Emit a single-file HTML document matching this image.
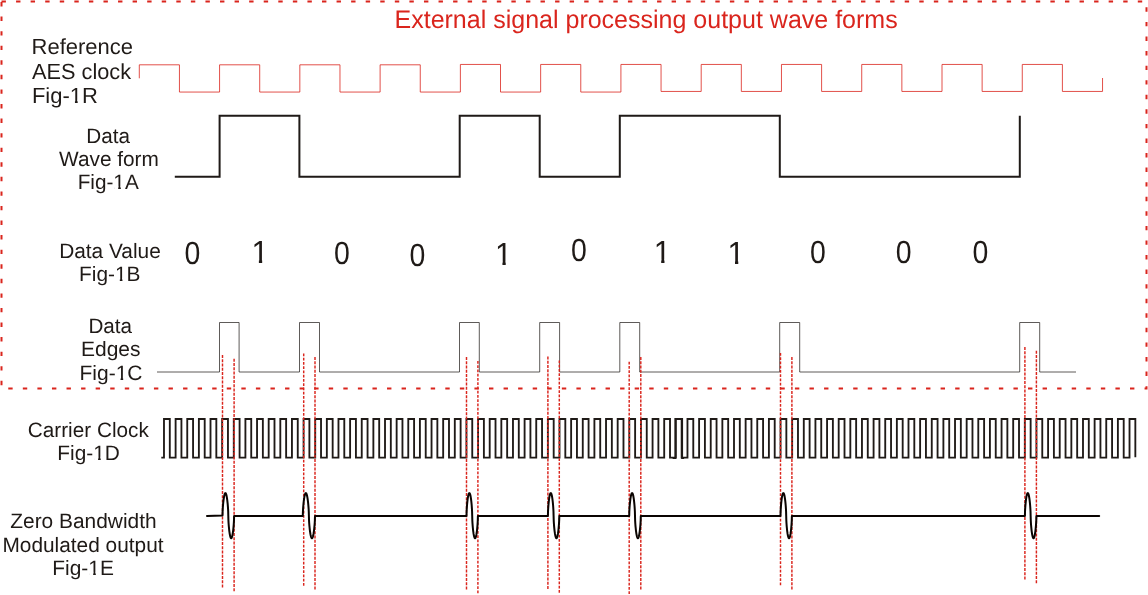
<!DOCTYPE html>
<html><head><meta charset="utf-8"><title>Wave forms</title>
<style>
html,body{margin:0;padding:0;background:#fff;}
body{width:1148px;height:595px;overflow:hidden;}
svg{display:block;font-family:"Liberation Sans",sans-serif;opacity:0.999;will-change:transform;}
text{text-rendering:geometricPrecision;}
</style></head>
<body>
<svg width="1148" height="595" viewBox="0 0 1148 595">
<rect width="1148" height="595" fill="#fff"/>
<path d="M1.5,1.5H1146.5V388.6H1.5Z" fill="none" stroke="#DA251D" stroke-width="2" stroke-dasharray="4.4 10.168"/>
<text transform="translate(394.50,28) scale(0.9849,1)" font-size="25.4" fill="#DA251D">External signal processing output wave forms</text>
<text transform="translate(31.54,54) scale(1.0041,1)" font-size="21.9" fill="#1F1A17">Reference</text>
<text transform="translate(32.00,79) scale(0.9928,1)" font-size="21.9" fill="#1F1A17">AES clock</text>
<text transform="translate(31.94,103) scale(1.0042,1)" font-size="21.9" fill="#1F1A17">Fig-1R</text>
<g transform="translate(31.94,103) scale(1.0042,1)" fill="#fff"><rect x="38.81" y="-3.28" width="4.01" height="3.88"/><rect x="45.56" y="-3.28" width="3.92" height="3.88"/></g>
<text transform="translate(86.25,143) scale(0.9941,1)" font-size="20.8" fill="#1F1A17">Data</text>
<text transform="translate(59.00,166) scale(1.0014,1)" font-size="20.8" fill="#1F1A17">Wave form</text>
<text transform="translate(77.64,189) scale(0.9973,1)" font-size="20.8" fill="#1F1A17">Fig-1A</text>
<g transform="translate(77.64,189) scale(0.9973,1)" fill="#fff"><rect x="36.86" y="-3.12" width="3.79" height="3.72"/><rect x="43.29" y="-3.12" width="3.71" height="3.72"/></g>
<text transform="translate(59.13,257.8) scale(1.0025,1)" font-size="20.8" fill="#1F1A17">Data Value</text>
<text transform="translate(79.03,280.9) scale(1.0031,1)" font-size="20.8" fill="#1F1A17">Fig-1B</text>
<g transform="translate(79.03,280.9) scale(1.0031,1)" fill="#fff"><rect x="36.86" y="-3.12" width="3.79" height="3.72"/><rect x="43.29" y="-3.12" width="3.71" height="3.72"/></g>
<text transform="translate(88.45,333) scale(0.9917,1)" font-size="20.8" fill="#1F1A17">Data</text>
<text transform="translate(81.02,355.8) scale(1.0090,1)" font-size="20.8" fill="#1F1A17">Edges</text>
<text transform="translate(79.52,380) scale(1.0087,1)" font-size="20.8" fill="#1F1A17">Fig-1C</text>
<g transform="translate(79.52,380) scale(1.0087,1)" fill="#fff"><rect x="36.86" y="-3.12" width="3.79" height="3.72"/><rect x="43.29" y="-3.12" width="3.71" height="3.72"/></g>
<text transform="translate(27.76,436.6) scale(0.9974,1)" font-size="20.8" fill="#1F1A17">Carrier Clock</text>
<text transform="translate(57.33,459.8) scale(1.0022,1)" font-size="20.8" fill="#1F1A17">Fig-1D</text>
<g transform="translate(57.33,459.8) scale(1.0022,1)" fill="#fff"><rect x="36.86" y="-3.12" width="3.79" height="3.72"/><rect x="43.29" y="-3.12" width="3.71" height="3.72"/></g>
<text transform="translate(10.27,528.4) scale(1.0049,1)" font-size="20.8" fill="#1F1A17">Zero Bandwidth</text>
<text transform="translate(2.43,551.7) scale(1.0024,1)" font-size="20.8" fill="#1F1A17">Modulated output</text>
<text transform="translate(52.33,574.9) scale(1.0046,1)" font-size="20.8" fill="#1F1A17">Fig-1E</text>
<g transform="translate(52.33,574.9) scale(1.0046,1)" fill="#fff"><rect x="36.86" y="-3.12" width="3.79" height="3.72"/><rect x="43.29" y="-3.12" width="3.71" height="3.72"/></g>
<path d="M139.3,78.3V64.8V64.8H179.44V92.05H219.57V64.8H259.71V92.05H299.84V64.8H339.98V92.05H380.11V64.8H420.25V92.05H460.38V64.45H500.51V92.05H540.65V64.45H580.78V92.05H620.92V64.45H661.06V91.45H701.19V64.45H741.33V91.45H781.46V64.45H821.60V91.45H861.73V64.45H901.87V91.45H942.00V64.45H982.13V91.45H1022.27V64.45H1062.40V91.45H1102.54V78.0" fill="none" stroke="#DA251D" stroke-width="0.8"/>
<path d="M174.8,176.7H219.6V115.7H299.4V176.7H459.7V115.7H539.7V176.7H619.8V115.7H779.8V176.7H1019.8V115.7" fill="none" stroke="#1F1A17" stroke-width="2" stroke-linejoin="miter"/>
<clipPath id="nofoot"><path d="M-2,-25.6H32V-3.29H11.17V2H7.75V-3.29H-2Z"/></clipPath>
<text transform="translate(184.44,264.10) scale(0.8891,1)" font-size="32" fill="#1F1A17">0</text>
<text transform="translate(333.89,264.10) scale(0.8891,1)" font-size="32" fill="#1F1A17">0</text>
<text transform="translate(409.49,266.20) scale(0.8891,1)" font-size="32" fill="#1F1A17">0</text>
<text transform="translate(570.99,260.90) scale(0.8891,1)" font-size="32" fill="#1F1A17">0</text>
<text transform="translate(809.99,263.30) scale(0.8891,1)" font-size="32" fill="#1F1A17">0</text>
<text transform="translate(895.79,263.30) scale(0.8891,1)" font-size="32" fill="#1F1A17">0</text>
<text transform="translate(972.39,263.30) scale(0.8891,1)" font-size="32" fill="#1F1A17">0</text>
<g transform="translate(251.45,262.80) scale(0.96,1)" clip-path="url(#nofoot)"><text font-size="32" fill="#1F1A17">1</text></g>
<g transform="translate(495.00,265.00) scale(0.96,1)" clip-path="url(#nofoot)"><text font-size="32" fill="#1F1A17">1</text></g>
<g transform="translate(653.75,262.90) scale(0.96,1)" clip-path="url(#nofoot)"><text font-size="32" fill="#1F1A17">1</text></g>
<g transform="translate(727.55,264.20) scale(0.96,1)" clip-path="url(#nofoot)"><text font-size="32" fill="#1F1A17">1</text></g>
<path d="M157,372.0H219.5V322.5H239.1V372.0H299.5V322.5H319.5V372.0H459.5V322.5H479.3V372.0H539.7V322.5H559.6V372.0H619.8V322.5H639.7V372.0H779.7V322.5H799.7V372.0H1019.7V322.5H1039.7V372.0H1076" fill="none" stroke="#1F1A17" stroke-width="0.72"/>
<path d="M161.3,457.55H163.98V419.0H169.80V457.55H175.61V419.0H181.43V457.55H187.25V419.0H193.06V457.55H198.88V419.0H204.70V457.55H210.51V419.0H216.33V457.55H222.14V419.0H227.96V457.55H233.78V419.0H239.59V457.55H245.41V419.0H251.23V457.55H257.04V419.0H262.86V457.55H268.68V419.0H274.49V457.55H280.31V419.0H286.13V457.55H291.94V419.0H297.76V457.55H303.58V419.0H309.39V457.55H315.21V419.0H321.03V457.55H326.84V419.0H332.66V457.55H338.47V419.0H344.29V457.55H350.11V419.0H355.92V457.55H361.74V419.0H367.56V457.55H373.37V419.0H379.19V457.55H385.01V419.0H390.82V457.55H396.64V419.0H402.46V457.55H408.27V419.0H414.09V457.55H419.91V419.0H425.72V457.55H431.54V419.0H437.36V457.55H443.17V419.0H448.99V457.55H454.80V419.0H460.62V457.55H466.44V419.0H472.25V457.55H478.07V419.0H483.89V457.55H489.70V419.0H495.52V457.55H501.34V419.0H507.15V457.55H512.97V419.0H518.79V457.55H524.60V419.0H530.42V457.55H536.24V419.0H542.05V457.55H547.87V419.0H553.69V457.55H559.50V419.0H565.32V457.55H571.13V419.0H576.95V457.55H582.77V419.0H588.58V457.55H594.40V419.0H600.22V457.55H606.03V419.0H611.85V457.55H617.67V419.0H623.48V457.55H629.30V419.0H635.12V457.55H640.93V419.0H646.75V457.55H652.57V419.0H658.38V457.55H664.20V419.0H670.02V457.55H675.83V419.0H681.65V457.55H687.47V419.0H693.28V457.55H699.10V419.0H704.91V457.55H710.73V419.0H716.55V457.55H722.36V419.0H728.18V457.55H734.00V419.0H739.81V457.55H745.63V419.0H751.45V457.55H757.26V419.0H763.08V457.55H768.90V419.0H774.71V457.55H780.53V419.0H786.35V457.55H792.16V419.0H797.98V457.55H803.79V419.0H809.61V457.55H815.43V419.0H821.24V457.55H827.06V419.0H832.88V457.55H838.69V419.0H844.51V457.55H850.33V419.0H856.14V457.55H861.96V419.0H867.78V457.55H873.59V419.0H879.41V457.55H885.23V419.0H891.04V457.55H896.86V419.0H902.68V457.55H908.49V419.0H914.31V457.55H920.12V419.0H925.94V457.55H931.76V419.0H937.57V457.55H943.39V419.0H949.21V457.55H955.02V419.0H960.84V457.55H966.66V419.0H972.47V457.55H978.29V419.0H984.11V457.55H989.92V419.0H995.74V457.55H1001.56V419.0H1007.37V457.55H1013.19V419.0H1019.01V457.55H1024.82V419.0H1030.64V457.55H1036.45V419.0H1042.27V457.55H1048.09V419.0H1053.90V457.55H1059.72V419.0H1065.54V457.55H1071.35V419.0H1077.17V457.55H1082.99V419.0H1088.80V457.55H1094.62V419.0H1100.44V457.55H1106.25V419.0H1112.07V457.55H1117.89V419.0H1123.70V457.55H1129.52V419.0H1135.34V457.15000000000003" fill="none" stroke="#1F1A17" stroke-width="1.85" stroke-linejoin="miter"/>
<path d="M672.63,458.05H675.33V419.0H682.15V458.05H684.15" fill="none" stroke="#1F1A17" stroke-width="1.85" stroke-linejoin="miter"/>
<path d="M222.5,355.0V588.7" fill="none" stroke="#DA251D" stroke-width="1.45" stroke-dasharray="2.9 1.35"/>
<path d="M234.1,358.8V592.5" fill="none" stroke="#DA251D" stroke-width="1.45" stroke-dasharray="2.9 1.35"/>
<path d="M303.7,353.4V587.1" fill="none" stroke="#DA251D" stroke-width="1.45" stroke-dasharray="2.9 1.35"/>
<path d="M315.0,357.1V590.8" fill="none" stroke="#DA251D" stroke-width="1.45" stroke-dasharray="2.9 1.35"/>
<path d="M466.5,357.1V590.8" fill="none" stroke="#DA251D" stroke-width="1.45" stroke-dasharray="2.9 1.35"/>
<path d="M477.9,360.9V594.6" fill="none" stroke="#DA251D" stroke-width="1.45" stroke-dasharray="2.9 1.35"/>
<path d="M547.9,356.5V590.2" fill="none" stroke="#DA251D" stroke-width="1.45" stroke-dasharray="2.9 1.35"/>
<path d="M559.3,360.4V594.1" fill="none" stroke="#DA251D" stroke-width="1.45" stroke-dasharray="2.9 1.35"/>
<path d="M629.2,361.7V595.4" fill="none" stroke="#DA251D" stroke-width="1.45" stroke-dasharray="2.9 1.35"/>
<path d="M640.8,357.1V590.8" fill="none" stroke="#DA251D" stroke-width="1.45" stroke-dasharray="2.9 1.35"/>
<path d="M780.5,352.9V586.6" fill="none" stroke="#DA251D" stroke-width="1.45" stroke-dasharray="2.9 1.35"/>
<path d="M791.9,357.1V590.8" fill="none" stroke="#DA251D" stroke-width="1.45" stroke-dasharray="2.9 1.35"/>
<path d="M1024.9,347.1V580.8" fill="none" stroke="#DA251D" stroke-width="1.45" stroke-dasharray="2.9 1.35"/>
<path d="M1036.4,350.8V584.5" fill="none" stroke="#DA251D" stroke-width="1.45" stroke-dasharray="2.9 1.35"/>
<path d="M207.0,515.92L222.5,515.50L222.62,511.14L222.74,508.90L222.86,507.10L222.98,505.54L223.10,504.16L223.22,502.91L223.35,501.77L223.47,500.72L223.59,499.76L223.71,498.87L223.83,498.05L223.95,497.31L224.07,496.62L224.19,496.00L224.31,495.45L224.43,494.95L224.55,494.52L224.68,494.14L224.80,493.82L224.92,493.56L225.04,493.36L225.16,493.22L225.28,493.13L225.40,493.10L225.52,493.13L225.64,493.22L225.76,493.36L225.88,493.56L226.00,493.82L226.12,494.14L226.25,494.52L226.37,494.95L226.49,495.45L226.61,496.00L226.73,496.62L226.85,497.31L226.97,498.05L227.09,498.87L227.21,499.76L227.33,500.72L227.45,501.77L227.57,502.91L227.70,504.16L227.82,505.54L227.94,507.10L228.06,508.90L228.18,511.14L228.30,515.95L228.42,520.28L228.54,522.51L228.66,524.30L228.78,525.84L228.90,527.21L229.03,528.45L229.15,529.59L229.27,530.63L229.39,531.59L229.51,532.47L229.63,533.28L229.75,534.02L229.87,534.70L229.99,535.31L230.11,535.87L230.23,536.36L230.35,536.79L230.47,537.17L230.60,537.48L230.72,537.74L230.84,537.94L230.96,538.09L231.08,538.17L231.20,538.20L231.32,538.17L231.44,538.09L231.56,537.94L231.68,537.74L231.80,537.48L231.92,537.17L232.05,536.79L232.17,536.36L232.29,535.87L232.41,535.31L232.53,534.70L232.65,534.02L232.77,533.28L232.89,532.47L233.01,531.59L233.13,530.63L233.25,529.59L233.38,528.45L233.50,527.21L233.62,525.84L233.74,524.30L233.86,522.51L233.98,520.28L234.10,515.95L302.8,515.95L302.93,511.50L303.05,509.22L303.18,507.38L303.31,505.79L303.44,504.38L303.56,503.11L303.69,501.94L303.82,500.87L303.94,499.89L304.07,498.98L304.20,498.15L304.32,497.39L304.45,496.69L304.58,496.06L304.71,495.50L304.83,494.99L304.96,494.54L305.09,494.16L305.21,493.84L305.34,493.57L305.47,493.36L305.60,493.22L305.72,493.13L305.85,493.10L305.98,493.13L306.10,493.22L306.23,493.36L306.36,493.57L306.49,493.84L306.61,494.16L306.74,494.54L306.87,494.99L306.99,495.50L307.12,496.06L307.25,496.69L307.38,497.39L307.50,498.15L307.63,498.98L307.76,499.89L307.88,500.87L308.01,501.94L308.14,503.11L308.26,504.38L308.39,505.79L308.52,507.38L308.65,509.22L308.77,511.50L308.90,515.95L309.03,520.28L309.15,522.51L309.28,524.30L309.41,525.84L309.54,527.21L309.66,528.45L309.79,529.59L309.92,530.63L310.04,531.59L310.17,532.47L310.30,533.28L310.43,534.02L310.55,534.70L310.68,535.31L310.81,535.87L310.93,536.36L311.06,536.79L311.19,537.17L311.31,537.48L311.44,537.74L311.57,537.94L311.70,538.09L311.82,538.17L311.95,538.20L312.08,538.17L312.20,538.09L312.33,537.94L312.46,537.74L312.59,537.48L312.71,537.17L312.84,536.79L312.97,536.36L313.09,535.87L313.22,535.31L313.35,534.70L313.48,534.02L313.60,533.28L313.73,532.47L313.86,531.59L313.98,530.63L314.11,529.59L314.24,528.45L314.36,527.21L314.49,525.84L314.62,524.30L314.75,522.51L314.87,520.28L315.00,515.95L466.5,515.95L466.62,511.50L466.74,509.22L466.86,507.38L466.98,505.79L467.09,504.38L467.21,503.11L467.33,501.94L467.45,500.87L467.57,499.89L467.69,498.98L467.81,498.15L467.93,497.39L468.04,496.69L468.16,496.06L468.28,495.50L468.40,494.99L468.52,494.54L468.64,494.16L468.76,493.84L468.88,493.57L468.99,493.36L469.11,493.22L469.23,493.13L469.35,493.10L469.47,493.13L469.59,493.22L469.71,493.36L469.82,493.57L469.94,493.84L470.06,494.16L470.18,494.54L470.30,494.99L470.42,495.50L470.54,496.06L470.66,496.69L470.77,497.39L470.89,498.15L471.01,498.98L471.13,499.89L471.25,500.87L471.37,501.94L471.49,503.11L471.61,504.38L471.72,505.79L471.84,507.38L471.96,509.22L472.08,511.50L472.20,515.95L472.32,520.28L472.44,522.51L472.56,524.30L472.68,525.84L472.79,527.21L472.91,528.45L473.03,529.59L473.15,530.63L473.27,531.59L473.39,532.47L473.51,533.28L473.62,534.02L473.74,534.70L473.86,535.31L473.98,535.87L474.10,536.36L474.22,536.79L474.34,537.17L474.46,537.48L474.57,537.74L474.69,537.94L474.81,538.09L474.93,538.17L475.05,538.20L475.17,538.17L475.29,538.09L475.41,537.94L475.52,537.74L475.64,537.48L475.76,537.17L475.88,536.79L476.00,536.36L476.12,535.87L476.24,535.31L476.36,534.70L476.47,534.02L476.59,533.28L476.71,532.47L476.83,531.59L476.95,530.63L477.07,529.59L477.19,528.45L477.31,527.21L477.42,525.84L477.54,524.30L477.66,522.51L477.78,520.28L477.90,515.95L547.9,515.95L548.02,511.50L548.14,509.22L548.26,507.38L548.38,505.79L548.49,504.38L548.61,503.11L548.73,501.94L548.85,500.87L548.97,499.89L549.09,498.98L549.21,498.15L549.32,497.39L549.44,496.69L549.56,496.06L549.68,495.50L549.80,494.99L549.92,494.54L550.04,494.16L550.16,493.84L550.27,493.57L550.39,493.36L550.51,493.22L550.63,493.13L550.75,493.10L550.87,493.13L550.99,493.22L551.11,493.36L551.23,493.57L551.34,493.84L551.46,494.16L551.58,494.54L551.70,494.99L551.82,495.50L551.94,496.06L552.06,496.69L552.17,497.39L552.29,498.15L552.41,498.98L552.53,499.89L552.65,500.87L552.77,501.94L552.89,503.11L553.01,504.38L553.12,505.79L553.24,507.38L553.36,509.22L553.48,511.50L553.60,515.95L553.72,520.28L553.84,522.51L553.96,524.30L554.07,525.84L554.19,527.21L554.31,528.45L554.43,529.59L554.55,530.63L554.67,531.59L554.79,532.47L554.91,533.28L555.02,534.02L555.14,534.70L555.26,535.31L555.38,535.87L555.50,536.36L555.62,536.79L555.74,537.17L555.86,537.48L555.97,537.74L556.09,537.94L556.21,538.09L556.33,538.17L556.45,538.20L556.57,538.17L556.69,538.09L556.81,537.94L556.92,537.74L557.04,537.48L557.16,537.17L557.28,536.79L557.40,536.36L557.52,535.87L557.64,535.31L557.76,534.70L557.88,534.02L557.99,533.28L558.11,532.47L558.23,531.59L558.35,530.63L558.47,529.59L558.59,528.45L558.71,527.21L558.82,525.84L558.94,524.30L559.06,522.51L559.18,520.28L559.30,515.95L629.2,515.95L629.32,511.50L629.44,509.22L629.56,507.38L629.68,505.79L629.80,504.38L629.93,503.11L630.05,501.94L630.17,500.87L630.29,499.89L630.41,498.98L630.53,498.15L630.65,497.39L630.77,496.69L630.89,496.06L631.01,495.50L631.13,494.99L631.25,494.54L631.38,494.16L631.50,493.84L631.62,493.57L631.74,493.36L631.86,493.22L631.98,493.13L632.10,493.10L632.22,493.13L632.34,493.22L632.46,493.36L632.58,493.57L632.70,493.84L632.83,494.16L632.95,494.54L633.07,494.99L633.19,495.50L633.31,496.06L633.43,496.69L633.55,497.39L633.67,498.15L633.79,498.98L633.91,499.89L634.03,500.87L634.15,501.94L634.27,503.11L634.40,504.38L634.52,505.79L634.64,507.38L634.76,509.22L634.88,511.50L635.00,515.95L635.12,520.28L635.24,522.51L635.36,524.30L635.48,525.84L635.60,527.21L635.73,528.45L635.85,529.59L635.97,530.63L636.09,531.59L636.21,532.47L636.33,533.28L636.45,534.02L636.57,534.70L636.69,535.31L636.81,535.87L636.93,536.36L637.05,536.79L637.17,537.17L637.30,537.48L637.42,537.74L637.54,537.94L637.66,538.09L637.78,538.17L637.90,538.20L638.02,538.17L638.14,538.09L638.26,537.94L638.38,537.74L638.50,537.48L638.62,537.17L638.75,536.79L638.87,536.36L638.99,535.87L639.11,535.31L639.23,534.70L639.35,534.02L639.47,533.28L639.59,532.47L639.71,531.59L639.83,530.63L639.95,529.59L640.07,528.45L640.20,527.21L640.32,525.84L640.44,524.30L640.56,522.51L640.68,520.28L640.80,515.95L780.5,515.95L780.62,511.50L780.74,509.22L780.86,507.38L780.98,505.79L781.09,504.38L781.21,503.11L781.33,501.94L781.45,500.87L781.57,499.89L781.69,498.98L781.81,498.15L781.92,497.39L782.04,496.69L782.16,496.06L782.28,495.50L782.40,494.99L782.52,494.54L782.64,494.16L782.76,493.84L782.88,493.57L782.99,493.36L783.11,493.22L783.23,493.13L783.35,493.10L783.47,493.13L783.59,493.22L783.71,493.36L783.83,493.57L783.94,493.84L784.06,494.16L784.18,494.54L784.30,494.99L784.42,495.50L784.54,496.06L784.66,496.69L784.77,497.39L784.89,498.15L785.01,498.98L785.13,499.89L785.25,500.87L785.37,501.94L785.49,503.11L785.61,504.38L785.73,505.79L785.84,507.38L785.96,509.22L786.08,511.50L786.20,515.95L786.32,520.28L786.44,522.51L786.56,524.30L786.67,525.84L786.79,527.21L786.91,528.45L787.03,529.59L787.15,530.63L787.27,531.59L787.39,532.47L787.51,533.28L787.62,534.02L787.74,534.70L787.86,535.31L787.98,535.87L788.10,536.36L788.22,536.79L788.34,537.17L788.46,537.48L788.57,537.74L788.69,537.94L788.81,538.09L788.93,538.17L789.05,538.20L789.17,538.17L789.29,538.09L789.41,537.94L789.52,537.74L789.64,537.48L789.76,537.17L789.88,536.79L790.00,536.36L790.12,535.87L790.24,535.31L790.36,534.70L790.48,534.02L790.59,533.28L790.71,532.47L790.83,531.59L790.95,530.63L791.07,529.59L791.19,528.45L791.31,527.21L791.42,525.84L791.54,524.30L791.66,522.51L791.78,520.28L791.90,515.95L1024.9,515.95L1025.02,511.50L1025.14,509.22L1025.26,507.38L1025.38,505.79L1025.50,504.38L1025.62,503.11L1025.74,501.94L1025.86,500.87L1025.98,499.89L1026.10,498.98L1026.22,498.15L1026.34,497.39L1026.46,496.69L1026.58,496.06L1026.70,495.50L1026.82,494.99L1026.94,494.54L1027.06,494.16L1027.18,493.84L1027.30,493.57L1027.42,493.36L1027.54,493.22L1027.66,493.13L1027.78,493.10L1027.89,493.13L1028.01,493.22L1028.13,493.36L1028.25,493.57L1028.37,493.84L1028.49,494.16L1028.61,494.54L1028.73,494.99L1028.85,495.50L1028.97,496.06L1029.09,496.69L1029.21,497.39L1029.33,498.15L1029.45,498.98L1029.57,499.89L1029.69,500.87L1029.81,501.94L1029.93,503.11L1030.05,504.38L1030.17,505.79L1030.29,507.38L1030.41,509.22L1030.53,511.50L1030.65,515.95L1030.77,520.28L1030.89,522.51L1031.01,524.30L1031.13,525.84L1031.25,527.21L1031.37,528.45L1031.49,529.59L1031.61,530.63L1031.73,531.59L1031.85,532.47L1031.97,533.28L1032.09,534.02L1032.21,534.70L1032.33,535.31L1032.45,535.87L1032.57,536.36L1032.69,536.79L1032.81,537.17L1032.93,537.48L1033.05,537.74L1033.17,537.94L1033.29,538.09L1033.41,538.17L1033.53,538.20L1033.64,538.17L1033.76,538.09L1033.88,537.94L1034.00,537.74L1034.12,537.48L1034.24,537.17L1034.36,536.79L1034.48,536.36L1034.60,535.87L1034.72,535.31L1034.84,534.70L1034.96,534.02L1035.08,533.28L1035.20,532.47L1035.32,531.59L1035.44,530.63L1035.56,529.59L1035.68,528.45L1035.80,527.21L1035.92,525.84L1036.04,524.30L1036.16,522.51L1036.28,520.28L1036.40,515.95L1099.2,515.95" fill="none" stroke="#0A0400" stroke-width="2" stroke-linejoin="round" stroke-linecap="round"/>
</svg>
</body></html>
